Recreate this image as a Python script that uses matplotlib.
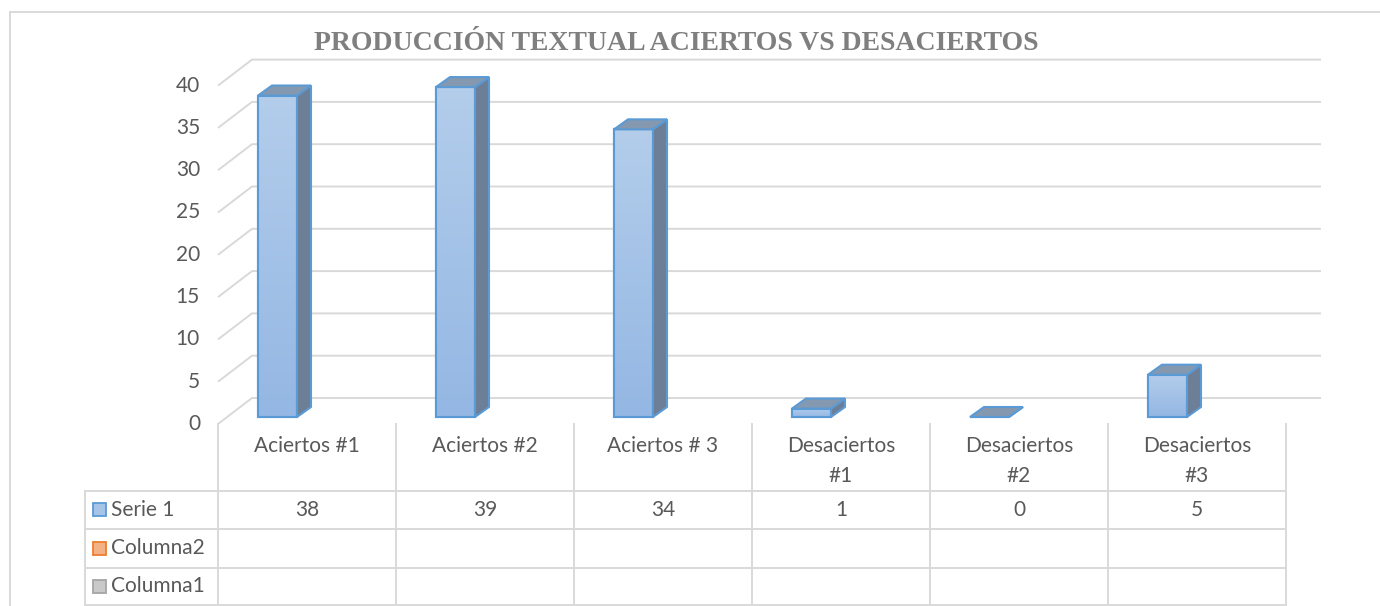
import matplotlib.pyplot as plt
import matplotlib
from matplotlib.patches import Polygon, Rectangle
import numpy as np

# datos
categorias = ['Aciertos #1', 'Aciertos #2', 'Aciertos # 3',
              'Desaciertos\n#1', 'Desaciertos\n#2', 'Desaciertos\n#3']
serie1 = [38, 39, 34, 1, 0, 5]
filas = ['Serie 1', 'Columna2', 'Columna1']
ticks_y = [0, 5, 10, 15, 20, 25, 30, 35, 40]
titulo = 'PRODUCCIÓN TEXTUAL ACIERTOS VS DESACIERTOS'

matplotlib.rcParams['font.family'] = ['Lato', 'DejaVu Sans']

W, H = 1380, 606
fig = plt.figure(figsize=(W / 100, H / 100), dpi=100)
ax = fig.add_axes([0, 0, 1, 1])

# escala: 1 categoría = 178 px, 1 unidad = 8.46 px, origen en la esquina frontal del suelo
CAT, UNIT = 178.0, 8.46
X0, Y0 = 218, 424


def px(x):
    return (x - X0) / CAT


def py(y):
    return (Y0 - y) / UNIT


gris = '#d9d9d9'
texto = '#595959'
n = len(categorias)

# profundidad del suelo / pared
DX, DY = 34 / CAT, 26 / UNIT
x_fin = px(1321)
for v in ticks_y:
    ax.plot([0, DX, x_fin], [v, v + DY, v + DY], color=gris, lw=1.4, zorder=1,
            solid_capstyle='butt')
    ax.text(px(200), v, str(v), ha='right', va='center', fontsize=15, color=texto)

# barras 3D
base = 7 / UNIT
off, ancho = 40 / CAT, 39 / CAT
bdx, bdy = 14 / CAT, 10 / UNIT
borde = '#5b9bd5'
grad = np.linspace(0, 1, 100).reshape(-1, 1)
cmap = matplotlib.colors.LinearSegmentedColormap.from_list('g', ['#b3cdeb', '#94b7e3'])
idx = np.arange(n)
barras = ax.bar(idx + off, serie1, width=ancho, bottom=base, align='edge',
                color='#a6c4e8', edgecolor=borde, lw=1.5, zorder=3)
for i, (b, v) in enumerate(zip(barras, serie1)):
    x0 = i + off
    x1 = x0 + ancho
    top = base + v
    if v > 0:
        im = ax.imshow(grad, extent=(x0, x1, base, top), cmap=cmap, aspect='auto',
                       zorder=3, interpolation='bilinear')
        im.set_clip_path(b)
        ax.add_patch(Rectangle((x0, base), ancho, v, fill=False, edgecolor=borde,
                               lw=1.5, zorder=4))
    lado = Polygon([(x1, base), (x1 + bdx, base + bdy), (x1 + bdx, top + bdy), (x1, top)],
                   closed=True, facecolor='#6d7f97', edgecolor=borde, lw=1.5, zorder=4)
    tapa = Polygon([(x0, top), (x0 + bdx, top + bdy), (x1 + bdx, top + bdy), (x1, top)],
                   closed=True, facecolor='#8498b0', edgecolor=borde, lw=1.5, zorder=4)
    ax.add_patch(lado)
    ax.add_patch(tapa)

# tabla de datos
filas_y = [py(491), py(529), py(568), py(605)]
x_izq = px(85)
for i in range(n + 1):
    ax.plot([i, i], [0, filas_y[-1]], color=gris, lw=1.4, zorder=1)
ax.plot([x_izq, x_izq], [filas_y[0], filas_y[-1]], color=gris, lw=1.4, zorder=1)
for y in filas_y:
    ax.plot([x_izq, n], [y, y], color=gris, lw=1.4, zorder=1)

for i, c in enumerate(categorias):
    ax.text(i + 0.5, py(436), c, ha='center', va='top', fontsize=15, color=texto,
            linespacing=1.6)

colores_fila = [('#a6c4e8', '#5b9bd5'), ('#f4b183', '#ed7d31'), ('#c9c9c9', '#a5a5a5')]
for k, (f, (fc, ec)) in enumerate(zip(filas, colores_fila)):
    yc = (filas_y[k] + filas_y[k + 1]) / 2
    ax.add_patch(Rectangle((px(93), yc - 6 / UNIT), 13 / CAT, 13 / UNIT,
                           facecolor=fc, edgecolor=ec, lw=1.3, zorder=3))
    ax.text(px(111), yc, f, ha='left', va='center', fontsize=15, color=texto)

yc = (filas_y[0] + filas_y[1]) / 2
for i, v in enumerate(serie1):
    ax.text(i + 0.5, yc, str(v), ha='center', va='center', fontsize=15, color=texto)

# título
ax.text(px(676), py(43), titulo, ha='center', va='center', fontsize=20,
        fontweight='bold', family='Liberation Serif', color='#7f7f7f')

# borde exterior
ax.plot([px(10), px(W)], [py(12), py(12)], color=gris, lw=1.4)
ax.plot([px(10), px(10)], [py(12), py(H)], color=gris, lw=1.4)

ax.set_xlim(-X0 / CAT, (W - X0) / CAT)
ax.set_ylim(-(H - Y0) / UNIT, Y0 / UNIT)
ax.axis('off')

fig.savefig('out.png', dpi=100)
